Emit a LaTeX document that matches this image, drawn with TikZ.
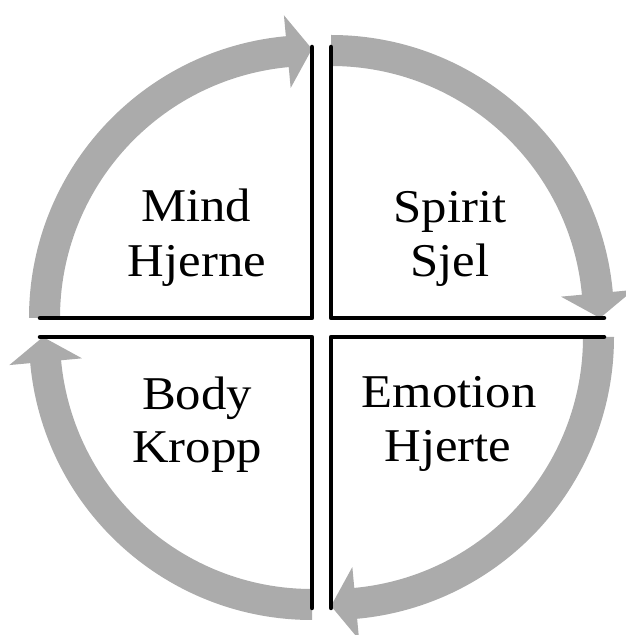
\documentclass[tikz,border=0pt]{standalone}
\usepackage{fontspec}
\setmainfont{Liberation Serif}[FakeStretch=1.08]
\definecolor{arrowgray}{RGB}{171,171,171}
\tikzset{
  divider/.style={line width=4.5pt, line join=round, line cap=round, black},
  qlabel/.style={font=\fontsize{47}{50}\selectfont, anchor=base, inner sep=0pt},
  quarterarrow/.pic={
    \fill[arrowgray] (180:283) arc[start angle=180, end angle=95.3, radius=283]
      -- (95.3:304) -- (90:269) -- (95.3:231) -- (95.3:252)
      arc[start angle=95.3, end angle=180, radius=252] -- cycle;
  }
}
\begin{document}
\begin{tikzpicture}[x=1pt,y=1pt]
\useasboundingbox (0,0) rectangle (626,635);
% quadrant centres
\coordinate (ctl) at (312,317);
\coordinate (ctr) at (331,317);
\coordinate (cbr) at (331,298);
\coordinate (cbl) at (312,298);
% gray cycle arrows
\pic at (ctl) {quarterarrow};
\pic[rotate=-90] at (ctr) {quarterarrow};
\pic[rotate=180] at (cbr) {quarterarrow};
\pic[rotate=90] at (cbl) {quarterarrow};
% black dividers
\draw[divider] (40,317) -- (ctl) -- (312,588);
\draw[divider] (331,588) -- (ctr) -- (604,317);
\draw[divider] (604,298) -- (cbr) -- (331,27);
\draw[divider] (40,298) -- (cbl) -- (312,27);
% labels
\node[qlabel] (mind) at (196,413) {Mind};
\node[qlabel] (hjerne) at (197,358) {Hjerne};
\node[qlabel] (spirit) at (450,412) {Spirit};
\node[qlabel] (sjel) at (450,358) {Sjel};
\node[qlabel] (body) at (197,225) {Body};
\node[qlabel] (kropp) at (197,172) {Kropp};
\node[qlabel] (emotion) at (449,227) {Emotion};
\node[qlabel] (hjerte) at (448,173) {Hjerte};
\end{tikzpicture}
\end{document}
